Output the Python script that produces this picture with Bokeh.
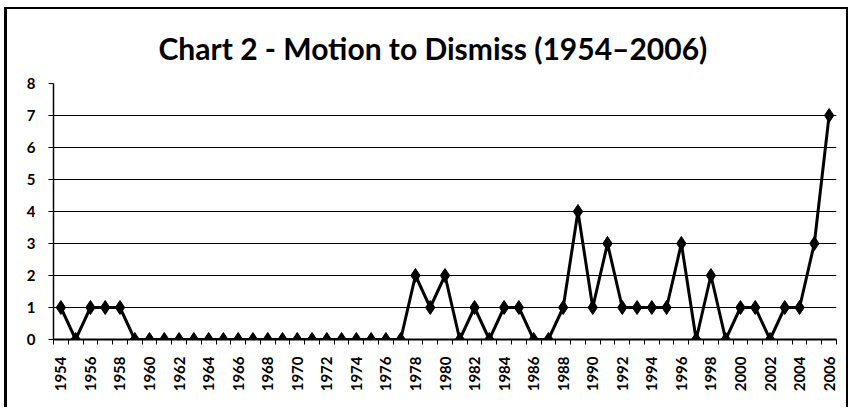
import math
from bokeh.plotting import figure
from bokeh.models import FixedTicker, Range1d
from bokeh.embed import file_html
from bokeh.resources import INLINE

years = list(range(1954, 2007))
counts = [1, 0, 1, 1, 1,
          0, 0, 0, 0, 0, 0, 0, 0, 0, 0, 0, 0, 0, 0, 0, 0, 0, 0, 0,
          2, 1, 2, 0, 1, 0, 1, 1, 0, 0, 1, 4, 1, 3, 1, 1, 1, 1, 3, 0,
          2, 0, 1, 1, 0, 1, 1, 3, 7]
y_ticks = [0, 1, 2, 3, 4, 5, 6, 7, 8]
title_text = "Chart 2 - Motion to Dismiss (1954\u20132006)"

FONT = "Lato"

p = figure(width=844, height=400, output_backend="svg", toolbar_location=None,
           x_range=Range1d(years[0] - 0.5, years[-1] + 0.5),
           y_range=Range1d(0, 8),
           min_border_left=46, min_border_right=15,
           min_border_top=74, min_border_bottom=70,
           title=title_text)
p.styles = {"margin-left": "4px", "margin-top": "7px",
            "border-left": "3px solid black", "border-top": "2px solid black",
            "border-right": "2px solid black"}

p.title.align = "left"
p.title.text_font = FONT
p.title.text_font_style = "bold"
p.title.text_font_size = "30px"
p.title.text_color = "black"
p.title.standoff = 36
p.title.offset = 105

p.outline_line_color = None
p.background_fill_color = "white"
p.border_fill_color = "white"

# grid
p.xgrid.grid_line_color = None
p.ygrid.ticker = FixedTicker(ticks=y_ticks)
p.ygrid.grid_line_color = "black"
p.ygrid.grid_line_width = 1

# y axis
p.yaxis.ticker = FixedTicker(ticks=y_ticks)
p.yaxis.axis_line_color = "black"
p.yaxis.axis_line_width = 1.5
p.yaxis.major_tick_in = 0
p.yaxis.major_tick_out = 5
p.yaxis.minor_tick_line_color = None
p.yaxis.major_label_text_font = FONT
p.yaxis.major_label_text_font_style = "bold"
p.yaxis.major_label_text_font_size = "15px"
p.yaxis.major_label_text_color = "black"
p.yaxis.major_label_standoff = 13

# x axis
boundaries = [y - 0.5 for y in years] + [years[-1] + 0.5]
p.xaxis.ticker = FixedTicker(ticks=years, minor_ticks=boundaries)
p.xaxis.major_label_overrides = {y: (str(y) if (y - years[0]) % 2 == 0 else "") for y in years}
p.xaxis.major_label_orientation = math.pi / 2
p.xaxis.axis_line_color = "black"
p.xaxis.axis_line_width = 2
p.xaxis.major_tick_in = 0
p.xaxis.major_tick_out = 0
p.xaxis.minor_tick_in = 0
p.xaxis.minor_tick_out = 5
p.xaxis.minor_tick_line_color = "black"
p.xaxis.major_label_text_font = FONT
p.xaxis.major_label_text_font_style = "bold"
p.xaxis.major_label_text_font_size = "15px"
p.xaxis.major_label_text_color = "black"
p.xaxis.major_label_standoff = 12

p.line(years, counts, line_color="black", line_width=3)
p.scatter(years, counts, marker="diamond", size=14, fill_color="black", line_color="black")

open("out.html", "w").write(file_html(p, INLINE))
